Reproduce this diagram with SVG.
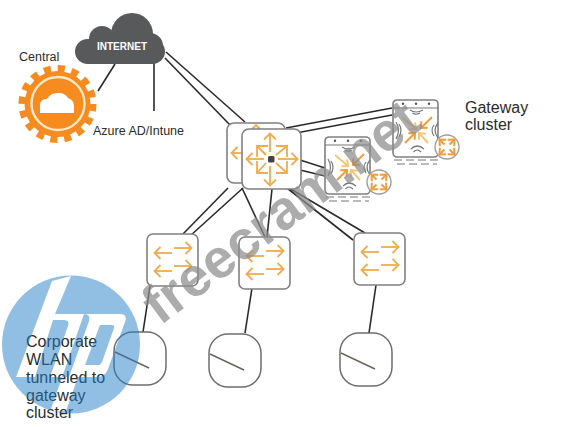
<svg xmlns="http://www.w3.org/2000/svg" width="570" height="427" viewBox="0 0 570 427">
<style>
text{font-family:"Liberation Sans",Arial,sans-serif;fill:#2b2b2b}
.lbl{font-size:16px}
.sm{font-size:12.5px}
.conn line{stroke:#2a2a2a;stroke-width:1.6}
.box{fill:#fff;stroke:#808080;stroke-width:1.6}
.ap{fill:#fff;stroke:#6e6e6e;stroke-width:1.5}
.ant{stroke:#6a6257;stroke-width:1.4}
.o{stroke:#f0ab4e;stroke-width:1.8;fill:none}
.oa{stroke:#f0ab4e;stroke-width:1.8;fill:none;marker-end:url(#arr)}
.od{stroke:#ee9f3a;stroke-width:2;fill:none;marker-end:url(#arr2)}
.oy{stroke:#f6c777;stroke-width:2;fill:none;marker-end:url(#arr3)}
.w{stroke:#777;stroke-width:1.2;fill:none}
.dash{stroke:#777;stroke-width:1;stroke-dasharray:8 4}
.wm{font-size:55px;font-weight:bold;fill:#8c8c8c;fill-opacity:.72}
</style>
<defs>
<marker id="arr" markerWidth="10" markerHeight="14" refX="6.5" refY="7" orient="auto" markerUnits="userSpaceOnUse"><path d="M1 1L7 7L1 13" fill="none" stroke="#f0ab4e" stroke-width="1.8"/></marker>
<marker id="arr2" markerWidth="9" markerHeight="10" refX="6" refY="5" orient="auto" markerUnits="userSpaceOnUse"><path d="M1 .5L6 5L1 9.5" fill="none" stroke="#ee9f3a" stroke-width="2"/></marker>
<marker id="arr3" markerWidth="9" markerHeight="10" refX="6" refY="5" orient="auto" markerUnits="userSpaceOnUse"><path d="M1 .5L6 5L1 9.5" fill="none" stroke="#f6c777" stroke-width="2"/></marker>
<g id="sw">
<rect class="box" x="0" y="0" width="51" height="52" rx="6"/>
<line class="oa" x1="25" y1="19" x2="8" y2="19"/>
<line class="oa" x1="27" y1="14" x2="44" y2="14"/>
<line class="oa" x1="25" y1="37" x2="8" y2="37"/>
<line class="oa" x1="27" y1="32" x2="44" y2="32"/>
</g>
<g id="ap">
<rect class="ap" x="0" y="0" width="52" height="53" rx="19"/>
<line class="ant" x1="1" y1="20" x2="35" y2="36"/>
</g>
<g id="gw">
<rect class="box" x="0" y="0" width="45" height="57" rx="4"/>
<line class="w" x1="0" y1="8" x2="45" y2="8"/>
<circle cx="10" cy="3.8" r="1.2" fill="#555"/><circle cx="23" cy="3.8" r="1.2" fill="#555"/><circle cx="36" cy="3.8" r="1.2" fill="#555"/>
<line class="oy" x1="10" y1="18" x2="23" y2="29"/>
<line class="od" x1="39" y1="17" x2="28" y2="28"/>
<line class="od" x1="12" y1="43" x2="22" y2="33"/>
<line class="oy" x1="35" y1="43" x2="26" y2="33"/>
<path class="w" d="M17 10Q23 14 30 10M19.500 13Q23 15.500 27 13"/>
<path class="w" d="M18 49Q24 43 31 49M20.500 52Q24 48 28 52"/>
<path class="w" d="M6 24Q10 30 6 37M3 22Q8 30 3 39"/>
<path class="w" d="M41 25Q37 30 41 36M45 23Q39 30 45 38"/>
<line class="dash" x1="1" y1="60" x2="46" y2="60"/>
<line class="dash" x1="4" y1="64" x2="44" y2="64"/>
</g>
<g id="rc">
<circle r="12" fill="#fff" stroke="#a0a0a0" stroke-width="1.4"/>
<line class="od" x1="-2.500" y1="-2.500" x2="-7.500" y2="-7.500"/>
<line class="od" x1="2.500" y1="-2.500" x2="7.500" y2="-7.500"/>
<line class="od" x1="-2.500" y1="2.500" x2="-7.500" y2="7.500"/>
<line class="od" x1="2.500" y1="2.500" x2="7.500" y2="7.500"/>
</g>
<mask id="hp" maskUnits="userSpaceOnUse" x="0" y="270" width="145" height="150">
<circle cx="71" cy="344.500" r="69" fill="#fff"/>
<path fill="#000" fill-rule="evenodd" d="M52 281L71 276L55 314H84Q91 314 89 321L69 377H50L68 326Q70 320 64 320H53L35 377H16ZM84 314H120Q128 314 125 322L108 369Q105 377 97 377H78L66 411L50 412ZM100 325L85 365H98Q101 365 102 362L114 328Q115 325 112 325Z"/>
</mask>
</defs>

<g id="connectors" class="conn">
<line x1="166" y1="52" x2="245" y2="122"/>
<line x1="165" y1="58" x2="230" y2="125"/>
<line x1="115" y1="64" x2="98" y2="91"/>
<line x1="154" y1="60" x2="154" y2="111"/>
<line x1="286" y1="128" x2="392" y2="108"/>
<line x1="296" y1="133" x2="392" y2="115"/>
<line x1="300" y1="160" x2="325" y2="168"/>
<line x1="300" y1="170" x2="325" y2="176"/>
<line x1="228" y1="188" x2="183" y2="234"/>
<line x1="243" y1="188" x2="190" y2="236"/>
<line x1="242" y1="188" x2="265" y2="237"/>
<line x1="272" y1="189" x2="267" y2="237"/>
<line x1="287" y1="188" x2="353" y2="240"/>
<line x1="289" y1="188" x2="365" y2="233"/>
<line x1="150" y1="286" x2="143" y2="332"/>
<line x1="252" y1="288" x2="245" y2="333"/>
<line x1="376" y1="285" x2="369" y2="333"/>
</g>

<g id="internet">
<g fill="#58595b">
<rect x="75" y="39" width="90" height="25" rx="12.500"/>
<circle cx="102" cy="39" r="13"/>
<circle cx="132" cy="34" r="21"/>
<circle cx="150" cy="46" r="13"/>
</g>
<text x="122" y="50" text-anchor="middle" font-size="10" font-weight="bold" style="fill:#fff">INTERNET</text>
</g>

<g id="central">
<circle cx="57.500" cy="104" r="33" fill="#f68b1f"/>
<circle cx="57.500" cy="104" r="35" fill="none" stroke="#f68b1f" stroke-width="8" stroke-dasharray="7 6.740"/>
<circle cx="58" cy="103.500" r="26.500" fill="none" stroke="#ffe9c8" stroke-width="2.400"/>
<path fill="#fff" d="M40 113V104Q41 99 47 99Q51 92 59 93Q65 93 68 98Q74 100 74 106V113Z"/>
<text class="sm" x="19" y="61">Central</text>
</g>
<text id="azure" class="sm" x="93" y="135">Azure AD/Intune</text>

<g id="core-back">
<rect class="box" x="227" y="123" width="58" height="60" rx="7"/>
<line class="oa" x1="243" y1="153" x2="232" y2="153"/>
<path class="o" d="M252 129L256 125L260 129"/>
</g>
<g id="core-front">
<rect class="box" x="242" y="129" width="59" height="60" rx="7"/>
<line class="oa" x1="270" y1="152" x2="270" y2="134"/>
<line class="oa" x1="270" y1="166" x2="270" y2="185"/>
<line class="oa" x1="264" y1="159" x2="247" y2="159"/>
<line class="oa" x1="278" y1="159" x2="297" y2="159"/>
<path class="o" d="M266 155L257 146M257 157V146H268M276 155L287 146M276 146H287V157M266 163L257 173M257 161V173H268M276 163L287 173M276 173H287V161"/>
<rect x="268" y="156" width="6.500" height="6.500" rx="1.500" fill="#444"/>
</g>

<use id="gw1" href="#gw" x="393" y="100"/>
<use id="gw2" href="#gw" x="325" y="137"/>
<use id="gw1-badge" href="#rc" x="447" y="147"/>
<use id="gw2-badge" href="#rc" x="379" y="182"/>
<text id="gateway-label" class="lbl" x="465" y="113">Gateway<tspan x="465" dy="17">cluster</tspan></text>

<use id="sw1" href="#sw" x="147" y="234"/>
<use id="sw2" href="#sw" x="239" y="237"/>
<use id="sw3" href="#sw" x="354" y="233"/>

<use id="ap1" href="#ap" x="114" y="332"/>
<use id="ap2" href="#ap" x="209" y="334"/>
<use id="ap3" href="#ap" x="340" y="333"/>

<text id="wlan-label" class="lbl" x="26" y="347">Corporate<tspan x="26" dy="18">WLAN</tspan><tspan x="26" dy="18">tunneled to</tspan><tspan x="26" dy="18">gateway</tspan><tspan x="26" dy="17">cluster</tspan></text>

<rect id="hp-logo" x="0" y="270" width="145" height="150" fill="#2280c8" fill-opacity=".5" mask="url(#hp)"/>
<text id="watermark" class="wm" transform="translate(160 326) rotate(-37)">freecram.net</text>
</svg>
